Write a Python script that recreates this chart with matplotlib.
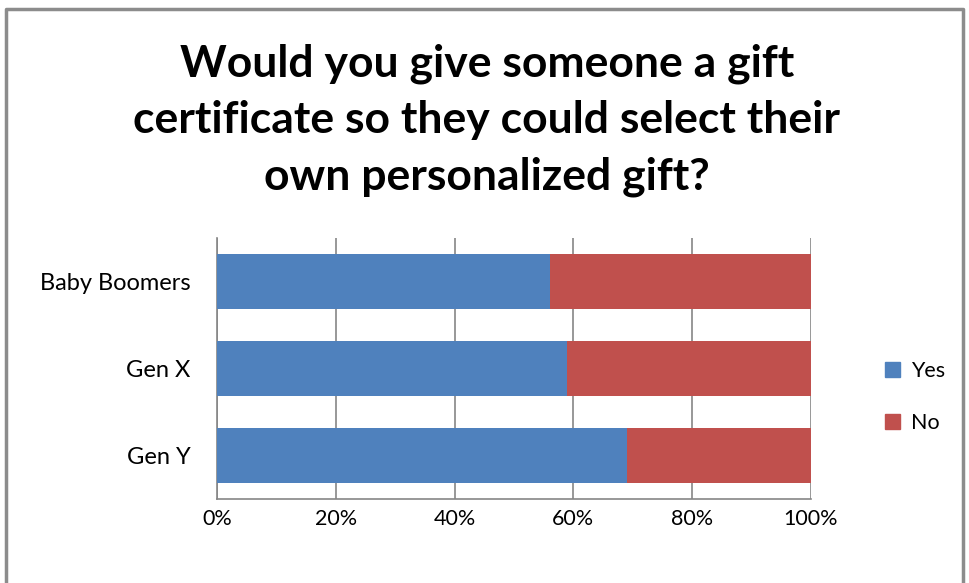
import matplotlib
matplotlib.use("Agg")
import matplotlib.pyplot as plt
from matplotlib.lines import Line2D
from matplotlib.patches import Patch

categories = ["Baby Boomers", "Gen X", "Gen Y"]
yes_share = [56, 59, 69]
no_share = [44, 41, 31]
x_ticks = [0, 20, 40, 60, 80, 100]
x_tick_labels = ["0%", "20%", "40%", "60%", "80%", "100%"]
title = "Would you give someone a gift\ncertificate so they could select their\nown personalized gift?"

BLUE = "#4F81BD"
RED = "#C0504D"
GRID = "#868686"

plt.rcParams["font.family"] = ["Lato", "DejaVu Sans"]

fig = plt.figure(figsize=(9.69, 5.83), dpi=100)
ax = fig.add_axes([217 / 969, 1 - 499 / 583, (811 - 217) / 969, (499 - 238) / 583])

pos = list(range(len(categories)))[::-1]
ax.barh(pos, yes_share, height=0.64, color=BLUE, label="Yes", zorder=3)
ax.barh(pos, no_share, left=yes_share, height=0.64, color=RED, label="No", zorder=3)

ax.set_xlim(0, 100)
ax.set_ylim(-0.5, len(categories) - 0.5)
ax.set_xticks(x_ticks)
ax.set_xticklabels(x_tick_labels, fontsize=15.5)
ax.set_yticks(pos)
ax.set_yticklabels(categories, fontsize=17)
ax.tick_params(axis="both", length=0)
ax.tick_params(axis="x", pad=7)
ax.tick_params(axis="y", pad=19)
ax.grid(axis="x", color=GRID, linewidth=1.2, zorder=0)
for side in ["top", "right"]:
    ax.spines[side].set_visible(False)
for side in ["left", "bottom"]:
    ax.spines[side].set_color(GRID)
    ax.spines[side].set_linewidth(1.2)

fig.text(487 / 969, 1 - 120 / 583, title, ha="center", va="center",
         fontsize=32, fontweight="bold", linespacing=1.5)

handles = [Patch(color=BLUE), Patch(color=RED)]
fig.legend(handles, ["Yes", "No"], loc="center left",
           bbox_to_anchor=(866 / 969, 1 - 397 / 583), frameon=False,
           fontsize=15.5, handlelength=0.7, handleheight=0.7,
           handletextpad=0.5, labelspacing=1.45)

# outer chart frame (left, top, right edges)
frame = Line2D([6 / 969, 6 / 969, 963 / 969, 963 / 969],
               [0, 1 - 9 / 583, 1 - 9 / 583, 0],
               transform=fig.transFigure, color="#8C8C8C", linewidth=2.5)
fig.add_artist(frame)

fig.savefig("out.png", dpi=100, facecolor="white")
